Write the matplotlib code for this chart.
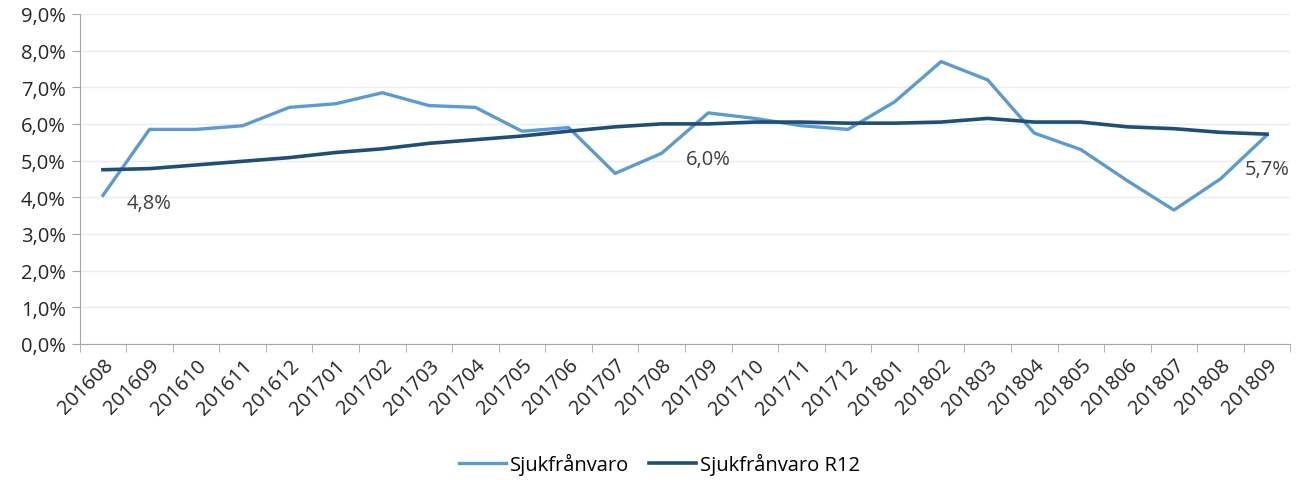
import numpy as np
import matplotlib
matplotlib.use("Agg")
from matplotlib import pyplot as plt
from matplotlib.ticker import FuncFormatter, FixedLocator

manader = ["201608", "201609", "201610", "201611", "201612", "201701", "201702",
           "201703", "201704", "201705", "201706", "201707", "201708", "201709",
           "201710", "201711", "201712", "201801", "201802", "201803", "201804",
           "201805", "201806", "201807", "201808", "201809"]
sjukfranvaro = [4.05, 5.85, 5.85, 5.95, 6.45, 6.55, 6.85, 6.5, 6.45, 5.8, 5.9, 4.65, 5.2,
                6.3, 6.15, 5.95, 5.85, 6.6, 7.7, 7.2, 5.75, 5.3, 4.45, 3.65, 4.5, 5.7]
sjukfranvaro_r12 = [4.75, 4.78, 4.88, 4.98, 5.08, 5.22, 5.32, 5.47, 5.57, 5.67, 5.8, 5.92, 6.0,
                    6.0, 6.05, 6.05, 6.02, 6.02, 6.05, 6.15, 6.05, 6.05, 5.92, 5.87, 5.77, 5.72]
# etiketter på R12-serien, var tolfte månad: (index, text)
etiketter = [(1, "4,8%"), (13, "6,0%"), (25, "5,7%")]

plt.rcParams['font.family'] = ['Open Sans', 'DejaVu Sans']
fs = 14.5

fig = plt.figure(figsize=(13.06, 4.81), dpi=100)
ax = fig.add_axes([0.061, 0.283, 0.927, 0.686])

x = np.arange(len(manader))
ax.plot(x, sjukfranvaro, color="#5B9BD5", lw=2.4, label="Sjukfrånvaro")
ax.plot(x, sjukfranvaro_r12, color="#1F4E79", lw=2.6, label="Sjukfrånvaro R12")

for i, txt in etiketter:
    ax.annotate(txt, (x[i], sjukfranvaro_r12[i]), textcoords="offset points",
                xytext=(0, -25), ha="center", va="center", fontsize=fs, color="#404040")

ax.set_xlim(-0.5, len(manader) - 0.5)
ax.set_ylim(0, 9)
ax.set_yticks(np.arange(0, 9.5, 1))
ax.yaxis.set_major_formatter(FuncFormatter(lambda v, p: f"{v:.1f}".replace(".", ",") + "%"))
ax.grid(axis="y", color="#EDEDED", lw=1)
ax.set_axisbelow(True)

ax.set_xticks(x)
ax.set_xticklabels(manader, rotation=45, ha="right", rotation_mode="anchor")
ax.xaxis.set_minor_locator(FixedLocator(np.arange(-0.5, len(manader), 1)))
ax.tick_params(axis="x", which="major", length=0, pad=8, labelsize=fs, colors="#262626")
ax.tick_params(axis="x", which="minor", length=6, color="#A6A6A6")
ax.tick_params(axis="y", length=6, color="#A6A6A6", labelsize=fs, labelcolor="#262626", pad=4)

for s in ["top", "right"]:
    ax.spines[s].set_visible(False)
for s in ["left", "bottom"]:
    ax.spines[s].set_color("#A6A6A6")

fig.legend(loc="center", bbox_to_anchor=(0.505, 0.033), ncol=2, frameon=False,
           fontsize=fs, handlelength=2.3, columnspacing=1.0, handletextpad=0.2)

fig.savefig("out.png", dpi=100)
